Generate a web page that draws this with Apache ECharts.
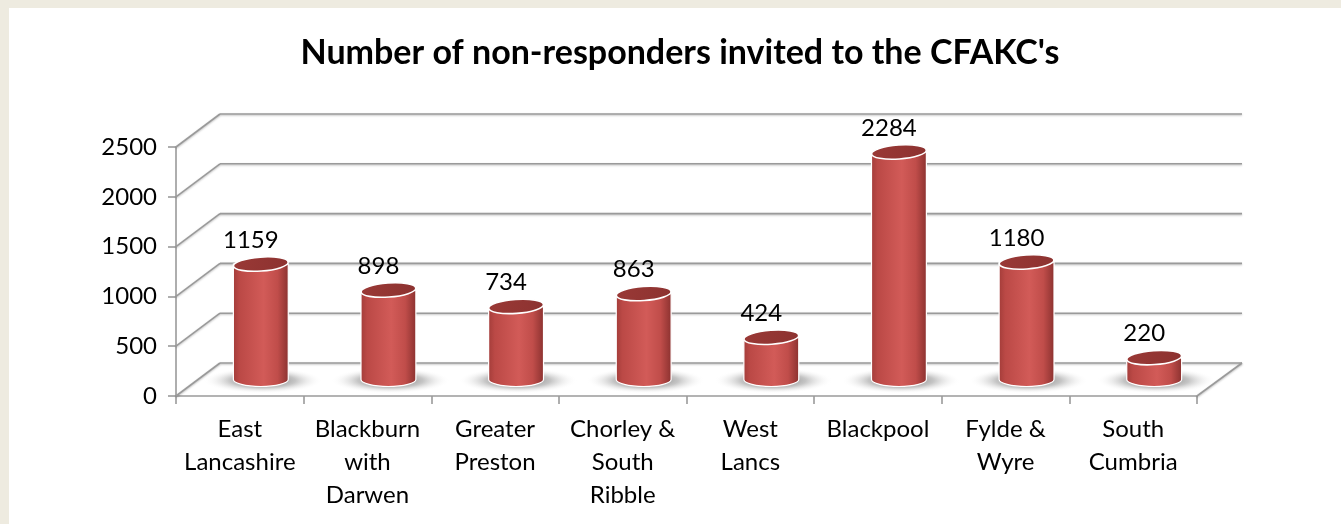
<!DOCTYPE html>
<html>
<head>
<meta charset="utf-8">
<script src="https://cdn.jsdelivr.net/npm/echarts@6/dist/echarts.min.js"></script>
<style>
  html, body { margin: 0; padding: 0; background: #ffffff; }
  #chart { width: 1341px; height: 524px; }
</style>
</head>
<body>
<div id="chart"></div>
<script>
// Non-responders invited, by area
const categories = [
  'East\nLancashire',
  'Blackburn\nwith\nDarwen',
  'Greater\nPreston',
  'Chorley &\nSouth\nRibble',
  'West\nLancs',
  'Blackpool',
  'Fylde &\nWyre',
  'South\nCumbria'
];
const values = [1159, 898, 734, 863, 424, 2284, 1180, 220];
const yTicks = [0, 500, 1000, 1500, 2000, 2500];

const FONT = 'Lato, "Open Sans", sans-serif';
const DEPTH_X = 44;   // back wall offset
const DEPTH_Y = -33;
const GRID_COLOR = '#9a9a9a';

const chart = echarts.init(document.getElementById('chart'), null, { renderer: 'canvas' });

// Side wall diagonals, back-wall gridlines and floor
function renderFrame(params, api) {
  const cs = params.coordSys;
  const v = api.value(0);
  const y = api.coord([0, v])[1];
  const x0 = cs.x;
  const x1 = cs.x + cs.width;
  const lineStyle = { stroke: GRID_COLOR, lineWidth: 1.6, shadowColor: 'rgba(0,0,0,0.25)', shadowBlur: 2, shadowOffsetY: 1 };
  const children = [
    { type: 'line', shape: { x1: x0, y1: y, x2: x0 + DEPTH_X, y2: y + DEPTH_Y }, style: lineStyle },
    { type: 'line', shape: { x1: x0 + DEPTH_X, y1: y + DEPTH_Y, x2: x1 + DEPTH_X + 1, y2: y + DEPTH_Y }, style: lineStyle }
  ];
  if (v === 0) {
    children.push({ type: 'line', shape: { x1: x1, y1: y, x2: x1 + DEPTH_X + 1, y2: y + DEPTH_Y }, style: lineStyle });
  }
  return { type: 'group', children: children };
}

// Cylinders standing half way into the floor depth
function renderCylinder(params, api) {
  const idx = api.value(0);
  const val = api.value(1);
  const band = api.size([1, 0])[0];
  const base = api.coord([idx, 0]);
  const top = api.coord([idx, val]);
  const cx = base[0] + DEPTH_X / 2 - 1;
  const by = base[1] + DEPTH_Y / 2;
  const ty = top[1] + DEPTH_Y / 2;
  const rx = band * 0.215;
  const ry = 7;
  const L = cx - rx, R = cx + rx;

  const body = 'M' + L + ' ' + ty + ' L' + L + ' ' + by +
    ' A' + rx + ' ' + ry + ' 0 0 0 ' + R + ' ' + by +
    ' L' + R + ' ' + ty + ' Z';
  const lid = 'M' + L + ' ' + ty +
    ' A' + rx + ' ' + ry + ' 0 1 0 ' + R + ' ' + ty +
    ' A' + rx + ' ' + ry + ' 0 1 0 ' + L + ' ' + ty + ' Z';

  return {
    type: 'group',
    children: [
      {
        type: 'circle',
        x: cx + 2, y: by + 1,
        scaleX: (rx + 32) / 13, scaleY: 1,
        shape: { cx: 0, cy: 0, r: 13 },
        style: {
          fill: new echarts.graphic.RadialGradient(0.5, 0.5, 0.5, [
            { offset: 0, color: 'rgba(60,60,60,0.8)' },
            { offset: 0.55, color: 'rgba(110,110,110,0.4)' },
            { offset: 1, color: 'rgba(255,255,255,0)' }
          ])
        }
      },
      {
        type: 'path',
        shape: { pathData: body },
        style: {
          fill: new echarts.graphic.LinearGradient(0, 0, 1, 0, [
            { offset: 0, color: '#a23c39' },
            { offset: 0.12, color: '#bb4946' },
            { offset: 0.55, color: '#d25b58' },
            { offset: 0.8, color: '#c04d4a' },
            { offset: 1, color: '#8a312f' }
          ]),
          stroke: '#ffffff',
          lineWidth: 1.2
        }
      },
      {
        type: 'path',
        shape: { pathData: lid },
        originX: cx, originY: ty,
        rotation: 0.07,
        style: {
          fill: new echarts.graphic.LinearGradient(0, 0, 1, 1, [
            { offset: 0, color: '#9a3936' },
            { offset: 1, color: '#8c3230' }
          ]),
          stroke: '#ffffff',
          lineWidth: 1.6
        }
      },
      {
        type: 'text',
        style: {
          text: String(val),
          x: cx - 10,
          y: ty - 24,
          align: 'center',
          verticalAlign: 'middle',
          fontSize: 24,
          fontFamily: FONT,
          fill: '#000000'
        }
      }
    ]
  };
}

const option = {
  backgroundColor: '#ffffff',
  animation: false,
  title: {
    text: "Number of non-responders invited to the CFAKC's",
    left: 675,
    textAlign: 'center',
    top: 31,
    textStyle: { fontFamily: FONT, fontSize: 34, fontWeight: 'bold', color: '#000000' }
  },
  graphic: [
    { type: 'rect', left: 0, top: 0, z: 100, shape: { width: 1341, height: 8 }, style: { fill: '#eeebe0' } },
    { type: 'rect', left: 0, top: 0, z: 100, shape: { width: 9, height: 524 }, style: { fill: '#eeebe0' } }
  ],
  grid: { left: 176, right: 144, top: 147, bottom: 128 },
  xAxis: {
    type: 'category',
    data: categories,
    axisLine: { show: true, lineStyle: { color: GRID_COLOR, width: 1.6 } },
    axisTick: { show: true, interval: 0, length: 8, lineStyle: { color: GRID_COLOR, width: 1.6 } },
    axisLabel: { interval: 0, margin: 17, fontSize: 24, lineHeight: 33, color: '#000000', fontFamily: FONT }
  },
  yAxis: {
    type: 'value',
    min: 0,
    max: 2500,
    interval: 500,
    axisLine: { show: true, lineStyle: { color: GRID_COLOR, width: 1.6 } },
    axisTick: { show: true, length: 8, lineStyle: { color: GRID_COLOR, width: 1.6 } },
    axisLabel: {
      margin: 19, fontSize: 24, color: '#000000', fontFamily: FONT,
      formatter: function (v) { return String(v); }
    },
    splitLine: { show: false }
  },
  series: [
    {
      type: 'custom',
      name: 'frame',
      z: 1,
      silent: true,
      renderItem: renderFrame,
      data: yTicks.map(function (t) { return [t]; }),
      encode: { y: 0 }
    },
    {
      type: 'custom',
      name: 'Non-responders',
      z: 2,
      renderItem: renderCylinder,
      data: values.map(function (v, i) { return [i, v]; }),
      encode: { x: 0, y: 1 }
    }
  ]
};

chart.setOption(option);
</script>
</body>
</html>
